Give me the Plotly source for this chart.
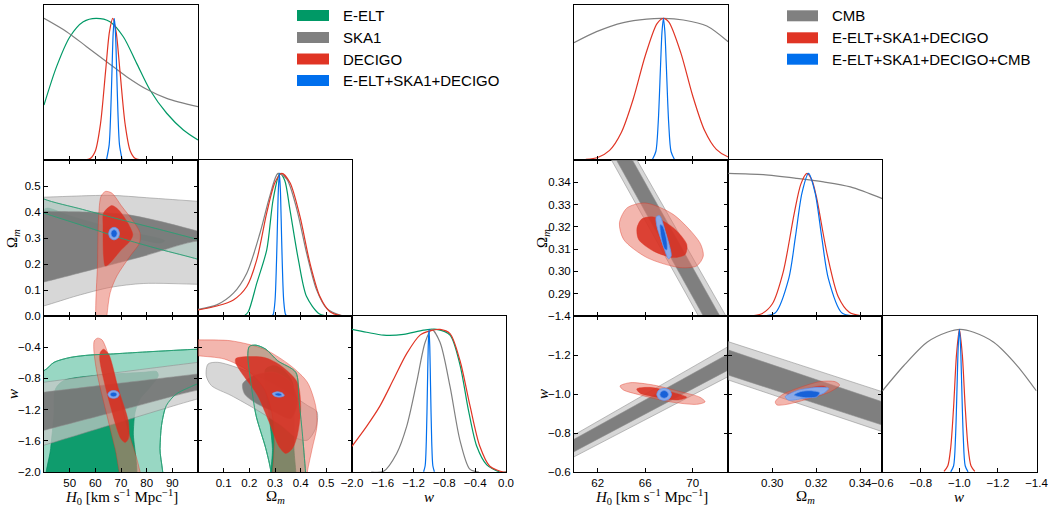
import plotly.graph_objects as go

FIG_W, FIG_H = 1052, 510

# ============ tick values ============
L_H0_TICKS = [50, 60, 70, 80, 90]
L_OM_XTICKS = [0.1, 0.2, 0.3, 0.4, 0.5]
L_W_XTICKS = [-2.0, -1.6, -1.2, -0.8, -0.4, 0.0]
L_OM_YTICKS = [0.0, 0.1, 0.2, 0.3, 0.4, 0.5]
L_W_YTICKS = [-2.0, -1.6, -1.2, -0.8, -0.4]
R_H0_TICKS = [62, 66, 70]
R_OM_XTICKS = [0.30, 0.32, 0.34]
R_W_XTICKS = [-0.6, -0.8, -1.0, -1.2, -1.4]
R_OM_YTICKS = [0.29, 0.30, 0.31, 0.32, 0.33, 0.34]
R_W_YTICKS = [-1.4, -1.2, -1.0, -0.8, -0.6]

L_LEGEND = ["E-ELT", "SKA1", "DECIGO", "E-ELT+SKA1+DECIGO"]
R_LEGEND = ["CMB", "E-ELT+SKA1+DECIGO", "E-ELT+SKA1+DECIGO+CMB"]

# ============ LEFT triangle: 1D marginals ============
L1_H0_EELT_X = [40.0, 44.9, 50.1, 55.3, 60.3, 65.7, 70.9, 76.1, 81.3, 87.8, 94.3, 100.0]
L1_H0_EELT_Y = [0.388, 0.659, 0.87, 0.976, 1.0, 0.976, 0.87, 0.682, 0.494, 0.33, 0.212, 0.141]
L1_H0_SKA_X = [40.0, 48.8, 56.6, 64.4, 72.2, 80.0, 87.8, 100.0]
L1_H0_SKA_Y = [1.0, 0.906, 0.80, 0.694, 0.588, 0.499, 0.435, 0.376]
L1_H0_DEC_X = [56, 58, 60, 62, 64, 65.5, 66.8, 68.1, 69.6, 71.6, 73.6, 75.6, 78]
L1_H0_DEC_Y = [0.001, 0.01, 0.064, 0.254, 0.627, 0.905, 1.0, 0.905, 0.627, 0.254, 0.064, 0.01, 0.001]
L1_H0_ALL_X = [64.4, 65.4, 66.0, 66.5, 66.95, 67.4, 67.85, 68.3, 68.8, 69.4, 70.4]
L1_H0_ALL_Y = [0.007, 0.109, 0.338, 0.638, 0.894, 1.0, 0.894, 0.638, 0.338, 0.109, 0.007]

L1_OM_EELT_X = [0.18, 0.196, 0.229, 0.268, 0.293, 0.319, 0.338, 0.358, 0.391, 0.423, 0.469, 0.5]
L1_OM_EELT_Y = [0.0, 0.03, 0.23, 0.466, 0.82, 1.0, 0.95, 0.748, 0.395, 0.136, 0.02, 0.0]
L1_OM_SKA_X = [0.0, 0.073, 0.138, 0.19, 0.242, 0.28, 0.312, 0.346, 0.385, 0.423, 0.462, 0.501, 0.553, 0.6]
L1_OM_SKA_Y = [0.047, 0.078, 0.16, 0.30, 0.584, 0.842, 1.0, 0.96, 0.748, 0.442, 0.183, 0.054, 0.007, 0.0]
L1_OM_DEC_X = [0.0, 0.073, 0.138, 0.19, 0.229, 0.268, 0.30, 0.326, 0.358, 0.397, 0.436, 0.475, 0.514, 0.566, 0.6]
L1_OM_DEC_Y = [0.042, 0.07, 0.113, 0.207, 0.395, 0.725, 0.936, 1.0, 0.936, 0.70, 0.372, 0.136, 0.03, 0.0, 0.0]
L1_OM_ALL_X = [0.287, 0.293, 0.300, 0.306, 0.310, 0.313, 0.317, 0.321, 0.324, 0.328, 0.334, 0.341, 0.347]
L1_OM_ALL_Y = [0.001, 0.011, 0.105, 0.389, 0.682, 0.882, 1.0, 0.882, 0.682, 0.389, 0.105, 0.011, 0.001]

L1_W_EELT_X = [-2.0, -1.81, -1.59, -1.33, -1.07, -0.90, -0.727, -0.597, -0.49, -0.38, -0.25, -0.078, 0.0]
L1_W_EELT_Y = [1.0, 0.98, 0.96, 0.965, 0.995, 1.0, 0.96, 0.75, 0.44, 0.18, 0.05, 0.0, 0.0]
L1_W_SKA_X = [-1.75, -1.59, -1.42, -1.29, -1.16, -1.05, -0.965, -0.857, -0.727, -0.597, -0.47, -0.35]
L1_W_SKA_Y = [0.0, 0.005, 0.13, 0.32, 0.63, 0.91, 1.0, 0.91, 0.60, 0.22, 0.02, 0.0]
L1_W_DEC_X = [-2.0, -1.81, -1.64, -1.46, -1.29, -1.117, -0.987, -0.857, -0.727, -0.597, -0.47, -0.34, -0.21, -0.035, 0.0]
L1_W_DEC_Y = [0.18, 0.32, 0.46, 0.65, 0.83, 0.96, 0.99, 1.0, 0.97, 0.78, 0.47, 0.18, 0.04, 0.0, 0.0]
L1_W_ALL_X = [-1.07, -1.05, -1.035, -1.02, -1.01, -1.0, -0.99, -0.98, -0.965, -0.95, -0.93]
L1_W_ALL_Y = [0.002, 0.044, 0.216, 0.607, 0.882, 1.0, 0.882, 0.607, 0.216, 0.044, 0.002]

# ============ LEFT triangle: 2D contours, H0 vs Omega_m ============
L10_EELT_OUT_X = [35, 40, 55, 69.7, 85, 100, 105, 105, 100, 85, 69.7, 55, 40, 35]
L10_EELT_OUT_Y = [0.48, 0.45, 0.41, 0.371, 0.333, 0.294, 0.28, 0.20, 0.218, 0.257, 0.30, 0.348, 0.396, 0.415]
L10_EELT_IN_X = [39.5, 41.3, 50, 59.4, 72, 85.2, 87, 85.2, 72, 59.4, 50, 41.3]
L10_EELT_IN_Y = [0.405, 0.415, 0.385, 0.358, 0.325, 0.297, 0.289, 0.281, 0.308, 0.332, 0.366, 0.396]
L10_SKA_OUT_X = [30, 40, 65.8, 80, 100, 110, 110, 100, 78.7, 65.8, 52.9, 40, 30]
L10_SKA_OUT_Y = [0.455, 0.457, 0.464, 0.455, 0.441, 0.435, 0.12, 0.122, 0.125, 0.11, 0.078, 0.039, 0.015]
L10_SKA_IN_X = [30, 40, 59.4, 72.3, 85.2, 100, 106, 106, 100, 78.7, 59.4, 40, 30]
L10_SKA_IN_Y = [0.405, 0.403, 0.399, 0.39, 0.364, 0.326, 0.31, 0.275, 0.288, 0.23, 0.18, 0.131, 0.11]
L10_DEC_OUT_X = [61.0, 60.9, 61.3, 62.2, 63.9, 66.4, 70.3, 74.8, 77.4, 77.2, 73.5, 68.4, 65.8, 64.5, 64.0]
L10_DEC_OUT_Y = [-0.06, 0.218, 0.383, 0.46, 0.479, 0.473, 0.422, 0.364, 0.32, 0.281, 0.23, 0.154, 0.09, 0.0, -0.06]
L10_DEC_IN_X = [63.2, 66.4, 69.0, 72.3, 74.6, 73.5, 69.7, 65.8, 63.9, 63.2, 63.0]
L10_DEC_IN_Y = [0.396, 0.425, 0.409, 0.364, 0.313, 0.288, 0.25, 0.205, 0.192, 0.231, 0.345]
L10_ALL_OUT_X = [69.4, 68.8, 67.3, 65.8, 65.2, 65.8, 67.3, 68.8]
L10_ALL_OUT_Y = [0.317, 0.334, 0.341, 0.334, 0.317, 0.300, 0.293, 0.300]
L10_ALL_IN_X = [68.5, 68.15, 67.3, 66.45, 66.1, 66.45, 67.3, 68.15]
L10_ALL_IN_Y = [0.317, 0.3276, 0.332, 0.3276, 0.317, 0.3064, 0.302, 0.3064]

# ============ LEFT triangle: 2D contours, H0 vs w ============
L20_EELT_OUT_X = [30, 40, 43.9, 50.3, 58, 65.8, 80, 100, 106, 106, 100, 96.8, 91.6, 87.7, 85.8, 85.2, 85.2, 30]
L20_EELT_OUT_Y = [-0.75, -0.70, -0.594, -0.531, -0.50, -0.488, -0.46, -0.425, -0.42, -0.86, -0.87, -0.913, -0.998, -1.146, -1.401, -1.70, -2.3, -2.3]
L20_EELT_IN_X = [41.3, 42.6, 43.9, 44.5, 47.7, 59.4, 78.7, 83.9, 84.5, 81.3, 77.4, 75.5, 74.8, 74.8]
L20_EELT_IN_Y = [-2.21, -1.70, -1.27, -0.934, -0.828, -0.764, -0.722, -0.713, -0.764, -0.913, -1.062, -1.231, -1.486, -2.21]
L20_SKA_OUT_X = [30, 40, 69.7, 100, 106, 106, 100, 69.7, 40, 30]
L20_SKA_OUT_Y = [-0.89, -0.849, -0.72, -0.594, -0.57, -1.02, -1.062, -1.359, -1.656, -1.75]
L20_SKA_IN_X = [30, 40, 70, 100, 106, 106, 100, 70, 40, 30]
L20_SKA_IN_Y = [-1.02, -0.977, -0.86, -0.743, -0.72, -0.93, -0.95, -1.208, -1.465, -1.55]
L20_DEC_OUT_X = [59.6, 60.9, 62.6, 65.2, 69.0, 72.9, 76.8, 78.1, 71.6, 67.7, 63.9, 60.6, 59.4]
L20_DEC_OUT_Y = [-0.318, -0.284, -0.306, -0.51, -0.977, -1.486, -1.911, -2.21, -2.21, -1.698, -1.189, -0.722, -0.425]
L20_DEC_IN_X = [61.9, 63.2, 65.2, 69.0, 72.9, 72.9, 71.6, 69.9, 65.8, 62.6, 61.7]
L20_DEC_IN_Y = [-0.467, -0.425, -0.488, -0.934, -1.359, -1.571, -1.622, -1.571, -1.146, -0.722, -0.552]
L20_ALL_OUT_X = [69.3, 68.66, 67.1, 65.54, 64.9, 65.54, 67.1, 68.66]
L20_ALL_OUT_Y = [-1.006, -0.971, -0.956, -0.971, -1.006, -1.041, -1.056, -1.041]
L20_ALL_IN_X = [68.4, 68.02, 67.1, 66.18, 65.8, 66.18, 67.1, 68.02]
L20_ALL_IN_Y = [-1.006, -0.985, -0.976, -0.985, -1.006, -1.027, -1.036, -1.027]

# ============ LEFT triangle: 2D contours, Omega_m vs w ============
L21_EELT_OUT_X = [0.284, 0.284, 0.264, 0.226, 0.206, 0.194, 0.2, 0.226, 0.264, 0.31, 0.381, 0.393, 0.406, 0.419, 0.423]
L21_EELT_OUT_Y = [-2.21, -2.0, -1.698, -1.274, -0.849, -0.51, -0.39, -0.374, -0.425, -0.573, -0.722, -1.062, -1.486, -2.0, -2.21]
L21_EELT_IN_X = [0.29, 0.29, 0.277, 0.264, 0.264, 0.297, 0.335, 0.368, 0.374, 0.374, 0.374]
L21_EELT_IN_Y = [-2.21, -1.698, -1.274, -0.934, -0.679, -0.637, -0.70, -0.849, -1.274, -1.698, -2.21]
L21_SKA_OUT_X = [0.039, 0.077, 0.168, 0.258, 0.348, 0.426, 0.464, 0.458, 0.426, 0.387, 0.323, 0.232, 0.129, 0.052, 0.032]
L21_SKA_OUT_Y = [-0.616, -0.594, -0.679, -0.807, -0.977, -1.146, -1.231, -1.444, -1.592, -1.571, -1.401, -1.21, -1.019, -0.892, -0.764]
L21_SKA_IN_X = [0.174, 0.219, 0.297, 0.361, 0.387, 0.361, 0.297, 0.219, 0.181]
L21_SKA_IN_Y = [-0.87, -0.764, -0.722, -0.849, -1.104, -1.316, -1.231, -1.104, -0.998]
L21_DEC_OUT_X = [-0.05, 0.0, 0.129, 0.258, 0.361, 0.426, 0.458, 0.464, 0.445, 0.426, 0.419, 0.277, 0.29, 0.297, 0.29, 0.258, 0.194, 0.103, 0.0, -0.05]
L21_DEC_OUT_Y = [-0.297, -0.306, -0.318, -0.425, -0.637, -0.849, -1.146, -1.401, -1.698, -2.0, -2.21, -2.21, -2.0, -1.613, -1.274, -0.934, -0.70, -0.552, -0.51, -0.49]
L21_DEC_IN_X = [0.148, 0.258, 0.323, 0.387, 0.40, 0.387, 0.368, 0.342, 0.316, 0.277, 0.232, 0.168, 0.146]
L21_DEC_IN_Y = [-0.543, -0.531, -0.637, -0.849, -1.189, -1.529, -1.698, -1.762, -1.677, -1.359, -1.019, -0.722, -0.594]
L21_ALL_OUT_X = [0.336, 0.33, 0.311, 0.295, 0.29, 0.296, 0.315, 0.331]
L21_ALL_OUT_Y = [-1.02, -0.99, -0.972, -0.983, -0.992, -1.022, -1.04, -1.03]
L21_ALL_IN_X = [0.327, 0.323, 0.312, 0.302, 0.299, 0.303, 0.314, 0.324]
L21_ALL_IN_Y = [-1.014, -0.996, -0.986, -0.992, -0.998, -1.016, -1.026, -1.022]

# ============ RIGHT triangle: 1D marginals ============
R1_H0_CMB_X = [60.0, 61.9, 64.16, 66.13, 67.54, 69.22, 71.2, 73.0]
R1_H0_CMB_Y = [0.828, 0.906, 0.97, 0.995, 1.0, 0.988, 0.946, 0.835]
R1_H0_RED_X = [61.0, 62.0, 63.0, 64.0, 65.0, 66.0, 67.0, 67.54, 68.0, 69.0, 70.0, 71.0, 72.0, 73.0, 74.0]
R1_H0_RED_Y = [0.004, 0.018, 0.068, 0.196, 0.432, 0.734, 0.963, 1.0, 0.973, 0.758, 0.455, 0.21, 0.075, 0.021, 0.004]
R1_H0_BLUE_X = [66.6, 66.9, 67.1, 67.3, 67.42, 67.54, 67.66, 67.78, 67.98, 68.18, 68.48]
R1_H0_BLUE_Y = [0.002, 0.06, 0.265, 0.674, 0.906, 1.0, 0.906, 0.674, 0.265, 0.06, 0.002]

R1_OM_CMB_X = [0.28, 0.296, 0.3112, 0.3233, 0.3355, 0.35]
R1_OM_CMB_Y = [1.0, 0.991, 0.965, 0.94, 0.905, 0.823]
R1_OM_RED_X = [0.29, 0.295, 0.30, 0.305, 0.31, 0.313, 0.3158, 0.318, 0.32, 0.325, 0.33, 0.335, 0.34]
R1_OM_RED_Y = [0.001, 0.014, 0.084, 0.31, 0.72, 0.925, 1.0, 0.953, 0.84, 0.43, 0.135, 0.026, 0.003]
R1_OM_BLUE_X = [0.2965, 0.3015, 0.3075, 0.3105, 0.3135, 0.3165, 0.3195, 0.3225, 0.3255, 0.3315, 0.3365]
R1_OM_BLUE_Y = [0.0014, 0.024, 0.262, 0.551, 0.862, 1.0, 0.862, 0.551, 0.262, 0.024, 0.0014]

R1_W_CMB_X = [-0.6, -0.711, -0.832, -0.936, -1.005, -1.074, -1.178, -1.30, -1.4]
R1_W_CMB_Y = [0.568, 0.745, 0.91, 0.98, 1.0, 0.98, 0.91, 0.745, 0.568]
R1_W_RED_X = [-0.92, -0.94, -0.955, -0.97, -0.985, -1.0, -1.015, -1.03, -1.045, -1.06, -1.08]
R1_W_RED_Y = [0.004, 0.044, 0.172, 0.458, 0.823, 1.0, 0.823, 0.458, 0.172, 0.044, 0.004]
R1_W_BLUE_X = [-0.955, -0.97, -0.98, -0.988, -0.994, -1.0, -1.006, -1.012, -1.02, -1.03, -1.045]
R1_W_BLUE_Y = [0.001, 0.044, 0.25, 0.607, 0.882, 1.0, 0.882, 0.607, 0.25, 0.044, 0.001]

# ============ RIGHT triangle: 2D contours ============
R10_CMB_OUT_X = [62.11, 64.24, 73.88, 71.54]
R10_CMB_OUT_Y = [0.36, 0.36, 0.27, 0.27]
R10_CMB_IN_X = [62.53, 63.87, 73.35, 71.95]
R10_CMB_IN_Y = [0.36, 0.36, 0.27, 0.27]
R10_RED_OUT_X = [63.83, 64.47, 66.01, 68.39, 70.62, 70.9, 70.35, 68.95, 66.15, 64.19]
R10_RED_OUT_Y = [0.3218, 0.3285, 0.3307, 0.3255, 0.3128, 0.3069, 0.3025, 0.3017, 0.3062, 0.3143]
R10_RED_IN_X = [65.31, 65.73, 66.71, 68.39, 69.51, 69.37, 68.39, 66.71, 65.45]
R10_RED_IN_Y = [0.3195, 0.3236, 0.3244, 0.3195, 0.3121, 0.3076, 0.3062, 0.3091, 0.3143]
R10_BLUE_OUT_X = [66.93, 67.21, 67.69, 68.19, 67.97, 67.49, 66.99]
R10_BLUE_OUT_Y = [0.3244, 0.325, 0.318, 0.3069, 0.3057, 0.3121, 0.3203]
R10_BLUE_IN_X = [67.27, 67.49, 67.83, 67.83, 67.63, 67.33]
R10_BLUE_IN_Y = [0.321, 0.3203, 0.3136, 0.3096, 0.3102, 0.3158]

R20_CMB_OUT_X = [59, 74, 74, 59]
R20_CMB_OUT_Y = [-0.755, -1.278, -1.121, -0.646]
R20_CMB_IN_X = [59, 74, 74, 59]
R20_CMB_IN_Y = [-0.734, -1.239, -1.155, -0.672]
R20_RED_OUT_X = [63.88, 64.73, 66.69, 68.95, 70.63, 71.05, 70.35, 68.10, 65.57, 64.16]
R20_RED_OUT_Y = [-1.041, -1.058, -1.046, -1.012, -0.983, -0.96, -0.947, -0.96, -0.995, -1.021]
R20_RED_IN_X = [65.29, 66.41, 68.10, 69.51, 68.80, 66.98, 65.57]
R20_RED_IN_Y = [-1.026, -1.034, -1.012, -0.983, -0.969, -0.983, -1.004]
R20_BLUE_OUT_X = [68.22, 68.04, 67.6, 67.16, 66.98, 67.16, 67.6, 68.04]
R20_BLUE_OUT_Y = [-0.998, -0.976, -0.967, -0.976, -0.998, -1.02, -1.029, -1.02]
R20_BLUE_IN_X = [67.96, 67.85, 67.6, 67.35, 67.24, 67.35, 67.6, 67.85]
R20_BLUE_IN_Y = [-0.998, -0.984, -0.978, -0.984, -0.998, -1.012, -1.018, -1.012]

R21_CMB_OUT_X = [0.27, 0.36, 0.36, 0.27]
R21_CMB_OUT_Y = [-1.305, -0.975, -0.769, -1.11]
R21_CMB_IN_X = [0.27, 0.36, 0.36, 0.27]
R21_CMB_IN_Y = [-1.264, -0.922, -0.804, -1.134]
R21_RED_OUT_X = [0.3014, 0.3044, 0.3127, 0.3218, 0.3286, 0.3306, 0.3264, 0.3173, 0.3067, 0.3021]
R21_RED_OUT_Y = [-0.96, -0.995, -1.034, -1.064, -1.063, -1.046, -1.012, -0.978, -0.947, -0.944]
R21_RED_IN_X = [0.3067, 0.3142, 0.3233, 0.3249, 0.3173, 0.3082]
R21_RED_IN_Y = [-0.995, -1.024, -1.041, -1.029, -0.995, -0.978]
R21_BLUE_OUT_X = [0.3059, 0.3112, 0.3203, 0.3256, 0.3233, 0.3142, 0.3074]
R21_BLUE_OUT_Y = [-0.986, -1.017, -1.034, -1.029, -1.004, -0.978, -0.969]
R21_BLUE_IN_X = [0.31, 0.3128, 0.3173, 0.3215, 0.3203, 0.315]
R21_BLUE_IN_Y = [-0.995, -1.012, -1.017, -1.007, -0.986, -0.981]

# ============ styles ============
GREEN, GRAY, RED, BLUE = "#009966", "#808080", "#E03424", "#006FED"
STY = {
    "green": ("rgba(50,175,135,0.5)", "rgba(0,150,100,0.9)", "rgba(0,140,95,0.85)"),
    "gray": ("rgba(200,200,200,0.72)", "rgba(112,112,112,0.85)", "rgba(140,140,140,0.7)"),
    "red": ("rgba(232,115,100,0.52)", "rgba(215,45,30,0.85)", "rgba(224,52,36,0.5)"),
    "blue": ("rgba(135,175,240,0.95)", "rgba(20,95,215,0.97)", "rgba(100,150,235,1)"),
}
TICKFONT = dict(family="Liberation Sans, Arial, sans-serif", size=11.5, color="black")
MATHFONT = dict(family="Liberation Serif, Times New Roman, serif", size=15, color="black")

fig = go.Figure()


def curve(x, y, color, ax):
    fig.add_trace(go.Scatter(
        x=x, y=y, mode="lines", xaxis="x" + ax, yaxis="y" + ax,
        line=dict(color=color, width=1.2, shape="spline", smoothing=0.8),
        hoverinfo="skip", showlegend=False))


def region(x, y, style, level, ax, shape="spline"):
    out_fill, in_fill, edge = STY[style]
    xs = list(x) + [x[0]]
    ys = list(y) + [y[0]]
    fig.add_trace(go.Scatter(
        x=xs, y=ys, mode="lines", fill="toself",
        fillcolor=out_fill if level == "out" else in_fill,
        xaxis="x" + ax, yaxis="y" + ax,
        line=dict(color=edge, width=0.8, shape=shape, smoothing=0.8),
        hoverinfo="skip", showlegend=False))


def outline(x, y, color, ax):
    xs = list(x) + [x[0]]
    ys = list(y) + [y[0]]
    fig.add_trace(go.Scatter(
        x=xs, y=ys, mode="lines", xaxis="x" + ax, yaxis="y" + ax,
        line=dict(color=color, width=1.0, shape="spline", smoothing=0.8),
        hoverinfo="skip", showlegend=False))


# axis ids
AX = {"L00": "", "L10": "2", "L11": "3", "L20": "4", "L21": "5", "L22": "6",
      "R00": "7", "R10": "8", "R11": "9", "R20": "10", "R21": "11", "R22": "12"}

# ---- left 1D ----
curve(L1_H0_EELT_X, L1_H0_EELT_Y, GREEN, AX["L00"])
curve(L1_H0_SKA_X, L1_H0_SKA_Y, GRAY, AX["L00"])
curve(L1_H0_DEC_X, L1_H0_DEC_Y, RED, AX["L00"])
curve(L1_H0_ALL_X, L1_H0_ALL_Y, BLUE, AX["L00"])
curve(L1_OM_EELT_X, L1_OM_EELT_Y, GREEN, AX["L11"])
curve(L1_OM_SKA_X, L1_OM_SKA_Y, GRAY, AX["L11"])
curve(L1_OM_DEC_X, L1_OM_DEC_Y, RED, AX["L11"])
curve(L1_OM_ALL_X, L1_OM_ALL_Y, BLUE, AX["L11"])
curve(L1_W_EELT_X, L1_W_EELT_Y, GREEN, AX["L22"])
curve(L1_W_SKA_X, L1_W_SKA_Y, GRAY, AX["L22"])
curve(L1_W_DEC_X, L1_W_DEC_Y, RED, AX["L22"])
curve(L1_W_ALL_X, L1_W_ALL_Y, BLUE, AX["L22"])

# ---- left 2D ----
for key, sets in [
    ("L10", [(L10_EELT_OUT_X, L10_EELT_OUT_Y, L10_EELT_IN_X, L10_EELT_IN_Y, "green"),
             (L10_SKA_OUT_X, L10_SKA_OUT_Y, L10_SKA_IN_X, L10_SKA_IN_Y, "gray"),
             (L10_DEC_OUT_X, L10_DEC_OUT_Y, L10_DEC_IN_X, L10_DEC_IN_Y, "red"),
             (L10_ALL_OUT_X, L10_ALL_OUT_Y, L10_ALL_IN_X, L10_ALL_IN_Y, "blue")]),
    ("L20", [(L20_EELT_OUT_X, L20_EELT_OUT_Y, L20_EELT_IN_X, L20_EELT_IN_Y, "green"),
             (L20_SKA_OUT_X, L20_SKA_OUT_Y, L20_SKA_IN_X, L20_SKA_IN_Y, "gray"),
             (L20_DEC_OUT_X, L20_DEC_OUT_Y, L20_DEC_IN_X, L20_DEC_IN_Y, "red"),
             (L20_ALL_OUT_X, L20_ALL_OUT_Y, L20_ALL_IN_X, L20_ALL_IN_Y, "blue")]),
    ("L21", [(L21_EELT_OUT_X, L21_EELT_OUT_Y, L21_EELT_IN_X, L21_EELT_IN_Y, "green"),
             (L21_SKA_OUT_X, L21_SKA_OUT_Y, L21_SKA_IN_X, L21_SKA_IN_Y, "gray"),
             (L21_DEC_OUT_X, L21_DEC_OUT_Y, L21_DEC_IN_X, L21_DEC_IN_Y, "red"),
             (L21_ALL_OUT_X, L21_ALL_OUT_Y, L21_ALL_IN_X, L21_ALL_IN_Y, "blue")]),
]:
    for ox, oy, ix, iy, st in sets[:3]:
        region(ox, oy, st, "out", AX[key])
        region(ix, iy, st, "in", AX[key])
    # E-ELT contour edges stay visible above the other fills
    outline(sets[0][0], sets[0][1], "rgba(40,160,115,0.9)", AX[key])
    ox, oy, ix, iy, st = sets[3]
    region(ox, oy, st, "out", AX[key])
    region(ix, iy, st, "in", AX[key])

# ---- right 1D ----
curve(R1_H0_CMB_X, R1_H0_CMB_Y, GRAY, AX["R00"])
curve(R1_H0_RED_X, R1_H0_RED_Y, RED, AX["R00"])
curve(R1_H0_BLUE_X, R1_H0_BLUE_Y, BLUE, AX["R00"])
curve(R1_OM_CMB_X, R1_OM_CMB_Y, GRAY, AX["R11"])
curve(R1_OM_RED_X, R1_OM_RED_Y, RED, AX["R11"])
curve(R1_OM_BLUE_X, R1_OM_BLUE_Y, BLUE, AX["R11"])
curve(R1_W_CMB_X, R1_W_CMB_Y, GRAY, AX["R22"])
curve(R1_W_RED_X, R1_W_RED_Y, RED, AX["R22"])
curve(R1_W_BLUE_X, R1_W_BLUE_Y, BLUE, AX["R22"])

# ---- right 2D ----
for key, cmb, rest in [
    ("R10", (R10_CMB_OUT_X, R10_CMB_OUT_Y, R10_CMB_IN_X, R10_CMB_IN_Y),
     [(R10_RED_OUT_X, R10_RED_OUT_Y, R10_RED_IN_X, R10_RED_IN_Y, "red"),
      (R10_BLUE_OUT_X, R10_BLUE_OUT_Y, R10_BLUE_IN_X, R10_BLUE_IN_Y, "blue")]),
    ("R20", (R20_CMB_OUT_X, R20_CMB_OUT_Y, R20_CMB_IN_X, R20_CMB_IN_Y),
     [(R20_RED_OUT_X, R20_RED_OUT_Y, R20_RED_IN_X, R20_RED_IN_Y, "red"),
      (R20_BLUE_OUT_X, R20_BLUE_OUT_Y, R20_BLUE_IN_X, R20_BLUE_IN_Y, "blue")]),
    ("R21", (R21_CMB_OUT_X, R21_CMB_OUT_Y, R21_CMB_IN_X, R21_CMB_IN_Y),
     [(R21_RED_OUT_X, R21_RED_OUT_Y, R21_RED_IN_X, R21_RED_IN_Y, "red"),
      (R21_BLUE_OUT_X, R21_BLUE_OUT_Y, R21_BLUE_IN_X, R21_BLUE_IN_Y, "blue")]),
]:
    region(cmb[0], cmb[1], "gray", "out", AX[key], shape="linear")
    region(cmb[2], cmb[3], "gray", "in", AX[key], shape="linear")
    for ox, oy, ix, iy, st in rest:
        region(ox, oy, st, "out", AX[key])
        region(ix, iy, st, "in", AX[key])


# ============ axes ============
def fmt(vals, dec):
    return [(f"{v:.{dec}f}").replace("-", "\u2212") for v in vals]


COLS_L = [(44, 198), (198, 352), (352, 506)]
COLS_R = [(574, 728.2), (728.2, 882.3), (882.3, 1036.5)]
ROWS = [(5, 160), (160, 316), (316, 472)]

X_SPEC = {  # (range, ticks, decimals)
    "L0": ([40, 100], L_H0_TICKS, 0), "L1": ([0, 0.6], L_OM_XTICKS, 1), "L2": ([-2, 0], L_W_XTICKS, 1),
    "R0": ([60, 73], R_H0_TICKS, 0), "R1": ([0.28, 0.35], R_OM_XTICKS, 2), "R2": ([-0.6, -1.4], R_W_XTICKS, 1),
}
Y_SPEC = {
    "L1": ([0, 0.6], L_OM_YTICKS, 1), "L2": ([-2, 0], L_W_YTICKS, 1),
    "R1": ([0.28, 0.35], R_OM_YTICKS, 2), "R2": ([-0.6, -1.4], R_W_YTICKS, 1),
}

layout_axes = {}
for key, aid in AX.items():
    tri, r, c = key[0], int(key[1]), int(key[2])
    cols = COLS_L if tri == "L" else COLS_R
    x0, x1 = cols[c]
    y0, y1 = ROWS[r]
    is1d = (r == c)
    xr, xt, xdec = X_SPEC[tri + str(c)]
    common = dict(showgrid=False, zeroline=False, showline=True, linecolor="black", linewidth=1,
                  ticks="inside", ticklen=4, tickwidth=1, tickcolor="black", tickfont=TICKFONT,
                  fixedrange=True, automargin=False)
    xa = dict(common, domain=[x0 / FIG_W, x1 / FIG_W], range=xr, anchor="y" + aid,
              tickmode="array", tickvals=xt, ticktext=fmt(xt, xdec),
              showticklabels=(r == 2), mirror=True if is1d else "ticks")
    if is1d:
        ya = dict(common, domain=[1 - y1 / FIG_H, 1 - y0 / FIG_H], range=[0, 1.094], anchor="x" + aid,
                  ticks="", showticklabels=False, mirror=True)
    else:
        yr, yt, ydec = Y_SPEC[tri + str(r)]
        ya = dict(common, domain=[1 - y1 / FIG_H, 1 - y0 / FIG_H], range=yr, anchor="x" + aid,
                  tickmode="array", tickvals=yt, ticktext=fmt(yt, ydec),
                  showticklabels=(c == 0), mirror="ticks")
    layout_axes["xaxis" + aid] = xa
    layout_axes["yaxis" + aid] = ya

fig.update_layout(**layout_axes)

# ============ axis titles ============
H0_TITLE = "<i>H</i><sub>0</sub> [km s<sup>\u22121</sup> Mpc<sup>\u22121</sup>]"
OM_TITLE = "\u03a9<sub><i>m</i></sub>"
W_TITLE = "<i>w</i>"
ann = []
for cols, ylab_x in [(COLS_L, 13), (COLS_R, 543)]:
    for (a, b), txt in zip(cols, [H0_TITLE, OM_TITLE, W_TITLE]):
        ann.append(dict(x=(a + b) / 2 / FIG_W, y=1 - 497 / FIG_H, xref="paper", yref="paper",
                        text=txt, showarrow=False, font=MATHFONT, xanchor="center", yanchor="middle"))
    ann.append(dict(x=ylab_x / FIG_W, y=1 - 239 / FIG_H, xref="paper", yref="paper", text=OM_TITLE,
                    showarrow=False, font=MATHFONT, textangle=-90, xanchor="center", yanchor="middle"))
    ann.append(dict(x=ylab_x / FIG_W, y=1 - 394 / FIG_H, xref="paper", yref="paper", text=W_TITLE,
                    showarrow=False, font=MATHFONT, textangle=-90, xanchor="center", yanchor="middle"))

# ============ legends ============
shapes = []
LEGFONT = dict(family="Liberation Sans, Arial, sans-serif", size=15, color="black")
for labels, colors, px0, px1, tx, rows in [
    (L_LEGEND, [GREEN, GRAY, RED, BLUE], 297, 329, 341, [15.5, 37.5, 59.0, 80.5]),
    (R_LEGEND, [GRAY, RED, BLUE], 787, 818, 830, [15.8, 37.8, 59.2]),
]:
    for lab, col, cy in zip(labels, colors, rows):
        shapes.append(dict(type="rect", xref="paper", yref="paper",
                           x0=px0 / FIG_W, x1=px1 / FIG_W,
                           y0=1 - (cy + 5.5) / FIG_H, y1=1 - (cy - 5.5) / FIG_H,
                           fillcolor=col, line=dict(width=0)))
        ann.append(dict(x=tx / FIG_W, y=1 - cy / FIG_H, xref="paper", yref="paper", text=lab,
                        showarrow=False, font=LEGFONT, xanchor="left", yanchor="middle"))

fig.update_layout(
    width=FIG_W, height=FIG_H, margin=dict(l=0, r=0, t=0, b=0, autoexpand=False),
    paper_bgcolor="white", plot_bgcolor="white", showlegend=False,
    annotations=ann, shapes=shapes,
)

fig.write_html("out.html")
